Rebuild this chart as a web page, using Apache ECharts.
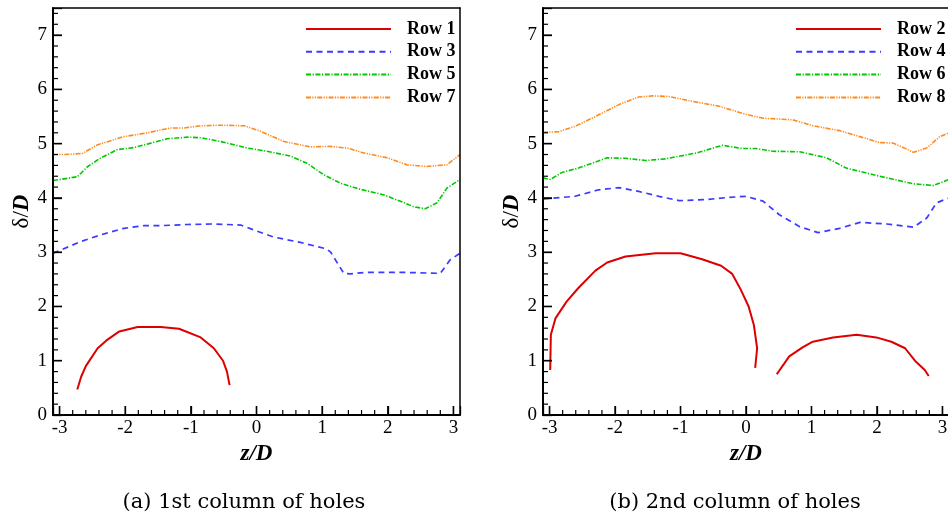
<!DOCTYPE html>
<html><head><meta charset="utf-8">
<script src="https://cdn.jsdelivr.net/npm/echarts@6/dist/echarts.min.js"></script>
<style>html,body{margin:0;padding:0;overflow:hidden;background:#fff}#c{width:952px;height:519px}</style>
</head><body><div id="c"></div>
<script>
// ---- data: (a) 1st column of holes ----
const row1Z = [-2.73, -2.67, -2.60, -2.42, -2.29, -2.09, -1.81, -1.46, -1.18, -0.85, -0.65, -0.51, -0.45, -0.41];
const row1D = [0.47, 0.71, 0.90, 1.23, 1.37, 1.54, 1.62, 1.62, 1.59, 1.43, 1.23, 1.00, 0.80, 0.55];
const row3Z = [-3.1, -2.67, -2.37, -2.02, -1.71, -1.46, -1.05, -0.65, -0.24, -0.04, 0.26, 0.67, 1.07, 1.13, 1.33, 1.43, 1.68, 2.19, 2.80, 2.95, 3.1];
const row3D = [2.98, 3.20, 3.32, 3.44, 3.49, 3.49, 3.51, 3.52, 3.50, 3.41, 3.28, 3.18, 3.06, 3.00, 2.61, 2.60, 2.63, 2.63, 2.61, 2.86, 2.98];
const row5Z = [-3.1, -2.73, -2.57, -2.37, -2.12, -1.86, -1.61, -1.36, -1.05, -0.85, -0.55, -0.14, 0.16, 0.52, 0.77, 1.02, 1.28, 1.58, 1.93, 2.19, 2.39, 2.57, 2.75, 2.90, 3.1];
const row5D = [4.32, 4.39, 4.58, 4.74, 4.89, 4.93, 5.01, 5.09, 5.12, 5.11, 5.04, 4.92, 4.86, 4.77, 4.64, 4.43, 4.27, 4.16, 4.06, 3.94, 3.84, 3.80, 3.91, 4.18, 4.34];
const row7Z = [-3.1, -2.93, -2.65, -2.42, -2.02, -1.66, -1.31, -1.10, -0.85, -0.55, -0.19, 0.06, 0.42, 0.82, 1.12, 1.38, 1.63, 1.99, 2.29, 2.59, 2.90, 3.1];
const row7D = [4.80, 4.80, 4.82, 4.98, 5.13, 5.20, 5.29, 5.29, 5.33, 5.34, 5.33, 5.23, 5.04, 4.94, 4.95, 4.92, 4.83, 4.74, 4.61, 4.58, 4.61, 4.80];
// ---- data: (b) 2nd column of holes ----
const row2aZ = [-2.99, -2.98, -2.91, -2.74, -2.56, -2.30, -2.12, -1.84, -1.38, -1.00, -0.67, -0.38, -0.21, -0.08, 0.04, 0.12, 0.17, 0.14];
const row2aD = [0.83, 1.48, 1.78, 2.09, 2.34, 2.66, 2.81, 2.92, 2.98, 2.98, 2.87, 2.75, 2.60, 2.31, 2.00, 1.66, 1.23, 0.87];
const row2bZ = [0.47, 0.66, 0.87, 1.02, 1.33, 1.69, 1.99, 2.22, 2.43, 2.58, 2.73, 2.79];
const row2bD = [0.75, 1.08, 1.25, 1.35, 1.43, 1.48, 1.43, 1.35, 1.23, 1.00, 0.83, 0.72];
const row4Z = [-3.1, -2.61, -2.25, -1.94, -1.64, -1.33, -1.02, -0.61, -0.26, 0, 0.26, 0.51, 0.82, 1.10, 1.43, 1.74, 2.15, 2.56, 2.76, 2.91, 3.1];
const row4D = [3.98, 4.03, 4.15, 4.19, 4.12, 4.03, 3.95, 3.97, 4.01, 4.03, 3.94, 3.69, 3.47, 3.36, 3.44, 3.55, 3.52, 3.46, 3.63, 3.91, 4.00];
const row6Z = [-3.1, -2.99, -2.81, -2.56, -2.35, -2.12, -1.84, -1.53, -1.23, -0.97, -0.72, -0.36, -0.05, 0.15, 0.41, 0.82, 1.23, 1.53, 2.04, 2.56, 2.86, 3.1];
const row6D = [4.37, 4.34, 4.47, 4.55, 4.64, 4.74, 4.73, 4.69, 4.72, 4.78, 4.84, 4.97, 4.91, 4.91, 4.86, 4.85, 4.74, 4.55, 4.40, 4.26, 4.23, 4.34];
const row8Z = [-3.1, -2.86, -2.61, -2.30, -1.94, -1.64, -1.43, -1.18, -0.82, -0.41, 0, 0.26, 0.71, 1.02, 1.43, 1.74, 2.04, 2.25, 2.56, 2.76, 2.96, 3.1];
const row8D = [5.21, 5.22, 5.32, 5.50, 5.72, 5.86, 5.88, 5.87, 5.78, 5.69, 5.54, 5.47, 5.44, 5.33, 5.24, 5.13, 5.02, 5.01, 4.84, 4.92, 5.13, 5.20];
// ---- ticks / legends / captions ----
const xMajor = [-3, -2, -1, 0, 1, 2, 3];
const yMajor = [0, 1, 2, 3, 4, 5, 6, 7];
const legendA = ['Row 1', 'Row 3', 'Row 5', 'Row 7'];
const legendB = ['Row 2', 'Row 4', 'Row 6', 'Row 8'];
const captions = ['(a) 1st column of holes', '(b) 2nd column of holes'];

const xMinor = [];
for (let i = -15; i <= 15; i++) { if (i % 5 !== 0) xMinor.push(+(i * 0.2).toFixed(2)); }
const yMinor = [];
for (let i = 1; i <= 37; i++) { if (i % 5 !== 0) yMinor.push(+(i * 0.2).toFixed(2)); }

const X_MIN = -3.1, X_MAX = 3.1, Y_MIN = 0, Y_MAX = 7.5;
const pairs = (z, d) => z.map((v, i) => [v, d[i]]);
const SERIF = 'Liberation Serif';
const intLabel = v => (Math.abs(v - Math.round(v)) < 1e-9 ? String(Math.round(v)) : '');

// tick marks: [kind, value]  kind 0 = x major, 1 = x minor, 2 = y major, 3 = y minor
const tickData = [].concat(
  xMajor.map(v => [0, v]), xMinor.map(v => [1, v]),
  yMajor.map(v => [2, v]), yMinor.map(v => [3, v]));

const styles = {
  red:    { color: '#dd0000', width: 2,   type: 'solid' },
  blue:   { color: '#3b3bff', width: 1.7, type: [6, 4.5] },
  green:  { color: '#00c800', width: 1.6, type: [5, 1.6, 1.2, 1.6] },
  orange: { color: '#ff8a1c', width: 1.6, type: [5, 1.3, 1.2, 1.3, 1.2, 1.3] }
};

function mkSeries(name, data, st, ax) {
  return {
    name, type: 'line', data, xAxisIndex: ax, yAxisIndex: ax,
    symbol: 'none', showSymbol: false, connectNulls: false, smooth: false,
    color: st.color,
    lineStyle: { color: st.color, width: st.width, type: st.type },
    emphasis: { disabled: true }, animation: false
  };
}

function tickSeries(ax) {
  return {
    type: 'custom', xAxisIndex: ax, yAxisIndex: ax, silent: true, clip: false, z: 6,
    data: tickData,
    renderItem: function (params, api) {
      const kind = api.value(0), v = api.value(1);
      const major = (kind === 0 || kind === 2);
      const len = major ? 9 : 5;
      const w = major ? 1.4 : 1.2;
      let shape;
      if (kind < 2) {
        const p = api.coord([v, Y_MIN]);
        shape = { x: p[0] - w / 2, y: p[1] - len, width: w, height: len };
      } else {
        const p = api.coord([X_MIN, v]);
        shape = { x: p[0], y: p[1] - w / 2, width: len, height: w };
      }
      return { type: 'rect', shape, style: { fill: '#000' } };
    }
  };
}

function xAxes(g) {
  return [{
    type: 'value', gridIndex: g, min: X_MIN, max: X_MAX, splitNumber: 6, position: 'bottom', z: 4,
    axisLine: { show: true, onZero: false, lineStyle: { color: '#000', width: 2 } },
    axisTick: { show: true, inside: true, length: 9, lineStyle: { color: '#000', width: 1.3 } },
    minorTick: { show: false },
    axisLabel: { show: true, formatter: intLabel, color: '#000', fontFamily: SERIF, fontSize: 19, margin: 4 },
    splitLine: { show: false }, minorSplitLine: { show: false },
    name: '{i|z/D}', nameLocation: 'middle', nameGap: 23,
    nameTextStyle: { rich: { i: { fontFamily: SERIF, fontStyle: 'italic', fontWeight: 'bold', fontSize: 23, color: '#000' } } }
  }, {
    type: 'value', gridIndex: g, min: X_MIN, max: X_MAX, position: 'top', z: 4,
    axisLine: { show: true, onZero: false, lineStyle: { color: '#000', width: 1.5 } },
    axisTick: { show: false }, minorTick: { show: false },
    axisLabel: { show: false }, splitLine: { show: false }
  }];
}
function yAxes(g) {
  return [{
    type: 'value', gridIndex: g, min: Y_MIN, max: Y_MAX, splitNumber: 7, position: 'left', z: 4,
    axisLine: { show: true, onZero: false, lineStyle: { color: '#000', width: 2 } },
    axisTick: { show: true, inside: true, length: 9, lineStyle: { color: '#000', width: 1.3 } },
    minorTick: { show: false },
    axisLabel: { show: true, formatter: intLabel, color: '#000', fontFamily: SERIF, fontSize: 19, margin: 6 },
    splitLine: { show: false }, minorSplitLine: { show: false },
    name: '{n|δ/}{i|D}', nameLocation: 'middle', nameGap: 14, nameRotate: 90,
    nameTextStyle: { rich: {
      n: { fontFamily: SERIF, fontSize: 23, color: '#000' },
      i: { fontFamily: SERIF, fontStyle: 'italic', fontWeight: 'bold', fontSize: 23, color: '#000' } } }
  }, {
    type: 'value', gridIndex: g, min: Y_MIN, max: Y_MAX, position: 'right', z: 4,
    axisLine: { show: true, onZero: false, lineStyle: { color: '#000', width: 1.5 } },
    axisTick: { show: false }, minorTick: { show: false },
    axisLabel: { show: false }, splitLine: { show: false }
  }];
}

const row2Data = pairs(row2aZ, row2aD).concat([['-', '-']], pairs(row2bZ, row2bD));

function mkLegend(names, left) {
  return {
    data: names, orient: 'vertical', left, top: 15,
    itemWidth: 85, itemHeight: 14, itemGap: 4.8,
    selectedMode: false,
    itemStyle: { opacity: 0, color: 'rgba(0,0,0,0)', borderColor: 'rgba(0,0,0,0)', borderWidth: 0 },
    textStyle: { fontFamily: SERIF, fontWeight: 'bold', fontSize: 18, color: '#000', lineHeight: 18, padding: [0, 0, 0, 11] }
  };
}

const chart = echarts.init(document.getElementById('c'), null, { renderer: 'canvas' });
chart.setOption({
  animation: false,
  backgroundColor: '#fff',
  grid: [
    { left: 53, top: 8, width: 407, height: 407, show: false },
    { left: 543, top: 8, width: 407, height: 407, show: false }
  ],
  xAxis: [...xAxes(0), ...xAxes(1)],
  yAxis: [...yAxes(0), ...yAxes(1)],
  legend: [mkLegend(legendA, 300), mkLegend(legendB, 790)],
  series: [
    mkSeries('Row 1', pairs(row1Z, row1D), styles.red, 0),
    mkSeries('Row 3', pairs(row3Z, row3D), styles.blue, 0),
    mkSeries('Row 5', pairs(row5Z, row5D), styles.green, 0),
    mkSeries('Row 7', pairs(row7Z, row7D), styles.orange, 0),
    mkSeries('Row 2', row2Data, styles.red, 2),
    mkSeries('Row 4', pairs(row4Z, row4D), styles.blue, 2),
    mkSeries('Row 6', pairs(row6Z, row6D), styles.green, 2),
    mkSeries('Row 8', pairs(row8Z, row8D), styles.orange, 2),
    tickSeries(0),
    tickSeries(2)
  ],
  graphic: [
    { type: 'text', x: 244, y: 503, style: { text: captions[0], font: '21px "DejaVu Serif"', fill: '#000', align: 'center', verticalAlign: 'middle', textAlign: 'center', textVerticalAlign: 'middle' } },
    { type: 'text', x: 735, y: 503, style: { text: captions[1], font: '21px "DejaVu Serif"', fill: '#000', align: 'center', verticalAlign: 'middle', textAlign: 'center', textVerticalAlign: 'middle' } }
  ]
});
</script>
</body></html>
